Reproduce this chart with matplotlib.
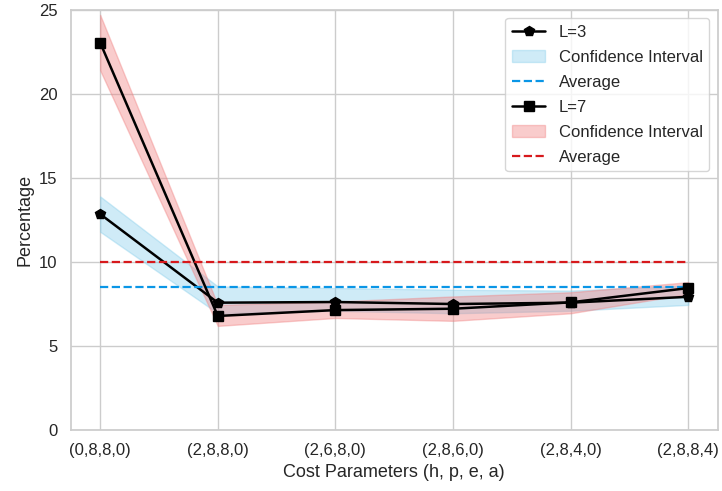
import numpy as np
import matplotlib
matplotlib.use("Agg")
import matplotlib.pyplot as plt
import seaborn as sns

# data
params = ["(0,8,8,0)", "(2,8,8,0)", "(2,6,8,0)", "(2,8,6,0)", "(2,8,4,0)", "(2,8,8,4)"]
l3_vals = [12.85, 7.58, 7.62, 7.5, 7.58, 7.93]
l3_low = [11.8, 6.95, 7.1, 6.95, 7.1, 7.45]
l3_high = [13.9, 8.55, 8.45, 8.35, 8.3, 8.6]
l3_avg = 8.5
l7_vals = [23.05, 6.79, 7.14, 7.22, 7.6, 8.45]
l7_low = [21.4, 6.2, 6.67, 6.5, 6.95, 8.1]
l7_high = [24.7, 7.45, 7.65, 7.95, 8.2, 8.8]
l7_avg = 10.0

sns.set_theme(style="whitegrid")
plt.rcParams['font.family'] = ['Liberation Sans', 'DejaVu Sans']

fig, ax = plt.subplots(figsize=(7.22, 4.91), dpi=100)
x = np.arange(len(params))

ax.plot(x, l3_vals, color='black', marker='p', markersize=7, linewidth=1.8, label='L=3')
ax.fill_between(x, l3_low, l3_high, color='#87ceeb', alpha=0.4, label='Confidence Interval')
ax.plot([x[0], x[-1]], [l3_avg, l3_avg], color='#0a96e6', linestyle='--', linewidth=1.6, label='Average')

ax.plot(x, l7_vals, color='black', marker='s', markersize=7, linewidth=1.8, label='L=7')
ax.fill_between(x, l7_low, l7_high, color='#f08080', alpha=0.4, label='Confidence Interval')
ax.plot([x[0], x[-1]], [l7_avg, l7_avg], color='#d7191c', linestyle='--', linewidth=1.6, label='Average')

ax.set_xticks(x)
ax.set_xticklabels(params)
ax.set_ylim(0, 25)
ax.set_xlabel('Cost Parameters (h, p, e, a)', fontsize=13)
ax.set_ylabel('Percentage', fontsize=13)
ax.tick_params(labelsize=12)
ax.legend(loc='upper right', fontsize=12, labelspacing=0.6)

fig.subplots_adjust(left=0.098, right=0.994, top=0.98, bottom=0.124)
fig.savefig('out.png')
